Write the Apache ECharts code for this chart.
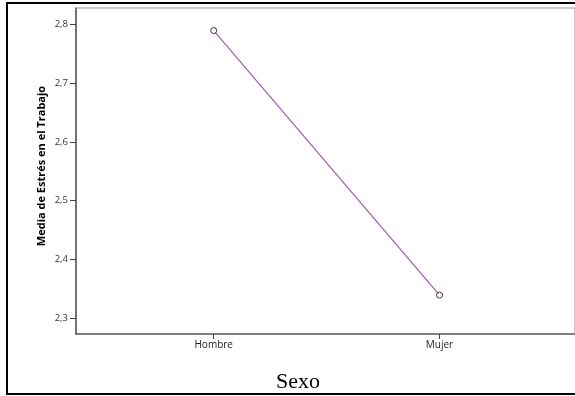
<!DOCTYPE html>
<html>
<head>
<meta charset="utf-8">
<script src="https://cdn.jsdelivr.net/npm/echarts@6/dist/echarts.min.js"></script>
<style>html,body{margin:0;padding:0;background:#fff}#c{width:575px;height:396px}</style>
</head>
<body>
<div id="c"></div>
<script>
const categories = ['Hombre', 'Mujer'];
const values = [2.790, 2.339];
const yTicks = [2.3, 2.4, 2.5, 2.6, 2.7, 2.8];
const xTitle = 'Sexo';
const yTitle = 'Media de Estrés en el Trabajo';

const chart = echarts.init(document.getElementById('c'), null, {renderer: 'canvas'});
chart.setOption({
  animation: false,
  grid: {left: 76, right: -4, top: 8, bottom: 62, show: true, borderColor: '#999', borderWidth: 1, backgroundColor: 'transparent'},
  xAxis: {
    type: 'value', min: -0.61, max: 1.6,
    splitLine: {show: false},
    axisLine: {show: true, onZero: false, lineStyle: {color: '#666', width: 1.5}},
    axisTick: {show: true, length: 5, lineStyle: {color: '#444'}, customValues: [0, 1]},
    axisLabel: {customValues: [0, 1], formatter: v => categories[Math.round(v)] || '', color: '#222', fontSize: 10, fontFamily: 'Open Sans', margin: 6}
  },
  yAxis: {
    type: 'value', min: 2.2728, max: 2.8284,
    splitLine: {show: false},
    axisLine: {show: true, onZero: false, lineStyle: {color: '#555', width: 1.5}},
    axisTick: {show: true, length: 6, lineStyle: {color: '#444'}, customValues: yTicks},
    axisLabel: {customValues: yTicks, formatter: v => v.toFixed(1).replace('.', ','), color: '#333', fontSize: 9.5, fontFamily: 'Open Sans', margin: 8}
  },
  series: [{
    type: 'line',
    data: values.map((v, i) => [i, v]),
    symbol: 'circle', symbolSize: 6,
    itemStyle: {color: '#fff', borderColor: '#333', borderWidth: 1},
    lineStyle: {color: '#a05aad', width: 1.2},
    z: 3
  }],
  graphic: [
    {type: 'rect', shape: {x: 7, y: 3, width: 600, height: 391}, style: {fill: 'none', stroke: '#000', lineWidth: 2}, z: 10},
    {type: 'text', x: 42, y: 166, rotation: Math.PI / 2, style: {text: yTitle, font: 'bold 11px "Open Sans"', fill: '#000', align: 'center', verticalAlign: 'middle'}},
    {type: 'text', x: 298, y: 382, style: {text: xTitle, font: '22px "Liberation Serif"', fill: '#000', align: 'center', verticalAlign: 'middle'}}
  ]
});
</script>
</body>
</html>
